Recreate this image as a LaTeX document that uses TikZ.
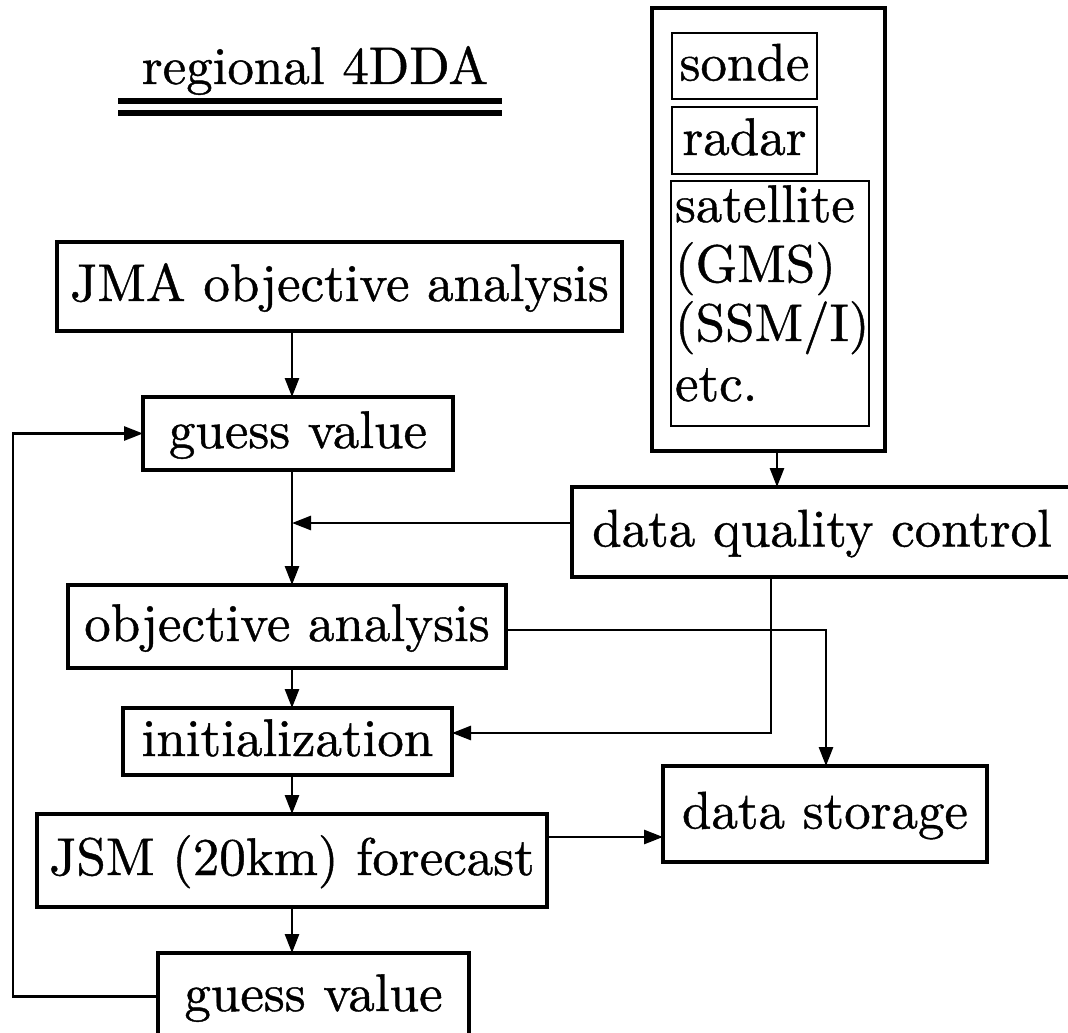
\documentclass[tikz,border=0pt]{standalone}
\usepackage{fontspec}
\newfontfamily\diagfont{lmroman10-regular.otf}[FakeBold=0.8]
\usetikzlibrary{arrows.meta}

\begin{document}
\begin{tikzpicture}[x=1pt,y=-1pt,
  every node/.style={inner sep=0pt, outer sep=0pt},
  txt/.style={font=\diagfont\fontsize{53}{60}\selectfont, text height=36pt, text depth=7pt},
  headtxt/.style={font=\diagfont\fontsize{53}{60}\selectfont},
  box/.style={txt, draw, line width=3.2pt},
  obsbox/.style={draw, line width=2pt},
  wire/.style={line width=2.8pt},
  arr/.style={wire, -{Triangle[length=19pt,width=14pt]}}]

\useasboundingbox (0,0) rectangle (1068,1033);
\clip (0,0) rectangle (1068,1033);

% heading with double rule
\node[headtxt, anchor=base] (title) at (315,84) {regional 4DDA};
\draw[line width=6pt] (118,101) -- (502,101);
\draw[line width=6pt] (118,112.5) -- (502,112.5);

% observation sources
\node[draw, line width=3.6pt, minimum width=233pt, minimum height=443pt] (obs) at (768.5,229.5) {};
\node[txt, obsbox, minimum width=145pt, minimum height=66pt] (sonde) at (744.5,66) {sonde};
\node[txt, obsbox, minimum width=145pt, minimum height=67pt] (radar) at (744.5,140.5) {radar};
\node[obsbox, minimum width=198pt, minimum height=245pt] (sat) at (770,303.5) {};
\node[txt, text depth=0pt, anchor=base west] (sat1) at (675,222) {satellite};
\node[txt, text depth=0pt, anchor=base west] (sat2) at (675,282) {(GMS)};
\node[txt, text depth=0pt, anchor=base west] (sat3) at (675,341) {(SSM/I)};
\node[txt, text depth=0pt, anchor=base west] (sat4) at (675,401) {etc.};

% processing chain
\node[box, minimum width=565pt, minimum height=89pt] (jma) at (339.5,286.5) {JMA objective analysis};
\node[box, minimum width=310pt, minimum height=73pt] (gv1) at (298,433.5) {guess value};
\node[box, minimum width=500pt, minimum height=90pt] (qc) at (822,532) {data quality control};
\node[box, minimum width=438pt, minimum height=83pt] (oa) at (287,626.5) {objective analysis};
\node[box, minimum width=329pt, minimum height=67pt] (init) at (287.5,741.5) {initialization};
\node[box, minimum width=510pt, minimum height=93pt] (jsm) at (292,860.5) {JSM (20km) forecast};
\node[box, minimum width=311pt, minimum height=87pt] (gv2) at (313.5,996.5) {guess value};
\node[box, line width=4.6pt, minimum width=324pt, minimum height=96pt] (store) at (825,814) {data storage};

% routing points
\coordinate (colx) at (292,0);
\coordinate (qcjoin) at (292,523);
\coordinate (obsx) at (777,0);
\coordinate (qcturn) at (771,733);
\coordinate (oaturn) at (826,630);
\coordinate (jsmout) at (0,837);
\coordinate (loopx) at (13,0);

% connectors
\draw[arr] (jma.south -| colx) -- (gv1.north -| colx);
\draw[arr] (gv1.south -| colx) -- (oa.north -| colx);
\draw[arr] (qc.west |- qcjoin) -- (qcjoin);
\draw[arr] (obs.south -| obsx) -- (qc.north -| obsx);
\draw[arr] (qc.south -| qcturn) -- (qcturn) -- (init.east |- qcturn);
\draw[arr] (oa.east |- oaturn) -- (oaturn) -- (store.north -| oaturn);
\draw[arr] (oa.south -| colx) -- (init.north -| colx);
\draw[arr] (init.south -| colx) -- (jsm.north -| colx);
\draw[arr] (jsm.east |- jsmout) -- (store.west |- jsmout);
\draw[arr] (jsm.south -| colx) -- (gv2.north -| colx);
\draw[arr] (gv2.west) -- (gv2.west -| loopx) -- (gv1.west -| loopx) -- (gv1.west);
\end{tikzpicture}
\end{document}
